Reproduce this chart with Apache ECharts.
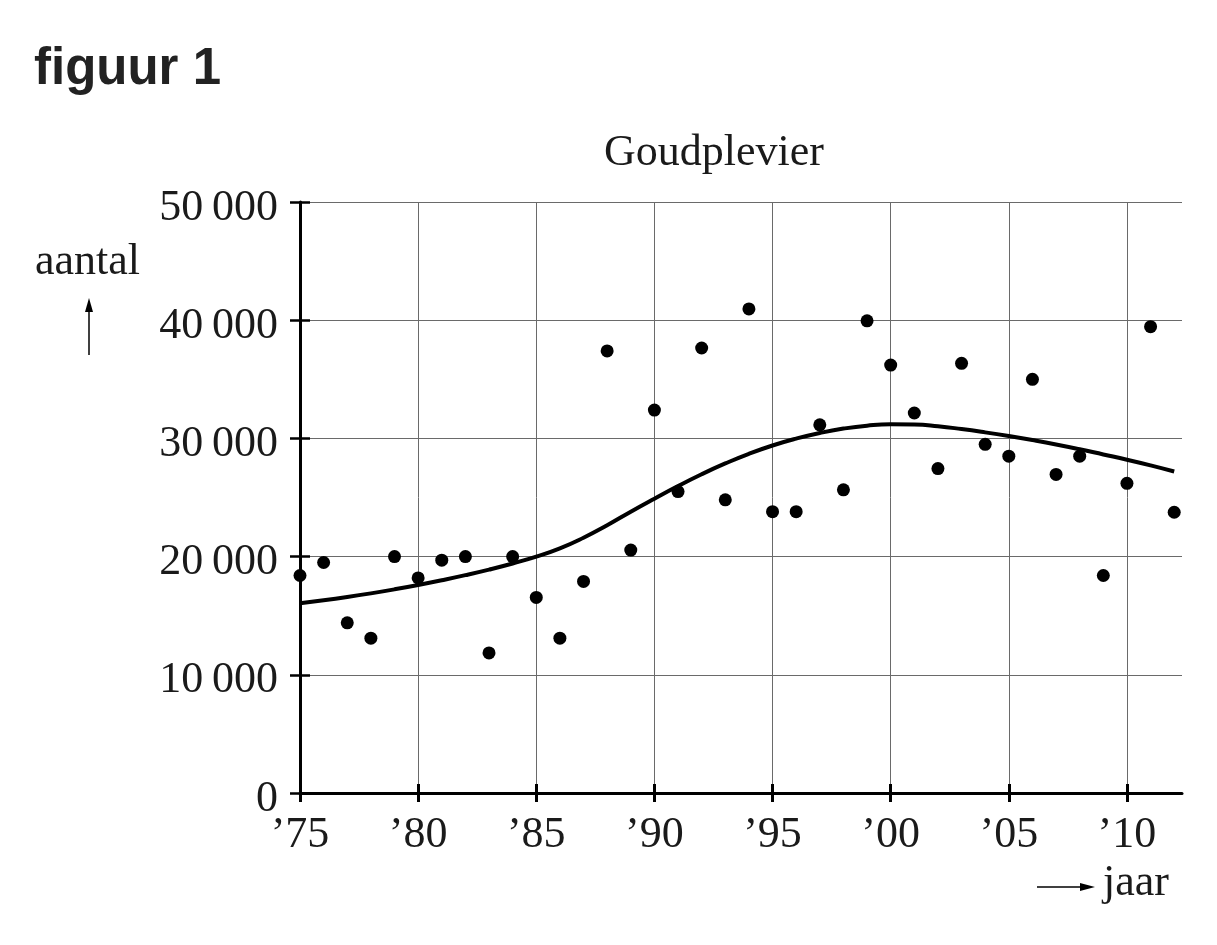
<!DOCTYPE html>
<html>
<head>
<meta charset="utf-8">
<script src="https://cdn.jsdelivr.net/npm/echarts@6/dist/echarts.min.js"></script>
<style>
html,body{margin:0;padding:0;background:#fff;}
#chart{width:1217px;height:945px;}
</style>
</head>
<body>
<div id="chart"></div>
<script>
// Observed counts (aantal) per year
var years = [1975,1976,1977,1978,1979,1980,1981,1982,1983,1984,1985,1986,1987,1988,1989,1990,1991,1992,1993,1994,1995,1996,1997,1998,1999,2000,2001,2002,2003,2004,2005,2006,2007,2008,2009,2010,2011,2012];
var counts = [18400,19500,14400,13100,20000,18200,19700,20000,11850,20000,16550,13100,17900,37400,20550,32400,25500,37650,24800,40950,23800,23800,31150,25650,39950,36200,32150,27450,36350,29500,28500,35000,26950,28500,18400,26200,39450,23750];
// Trend curve (one value per year)
var trendValues = [16050,16300,16580,16890,17230,17600,18000,18430,18900,19420,20000,20700,21600,22650,23800,24900,25970,26970,27880,28700,29400,29980,30460,30830,31080,31200,31180,31030,30790,30510,30200,29860,29490,29080,28640,28200,27720,27200];
// Tick labels
var xTicks = [1975,1980,1985,1990,1995,2000,2005,2010];
var xTickLabels = ['\u201975','\u201980','\u201985','\u201990','\u201995','\u201900','\u201905','\u201910'];
var yTickLabels = ['0','10\u2009000','20\u2009000','30\u2009000','40\u2009000','50\u2009000'];

var serif = '"Liberation Serif","DejaVu Serif",serif';
var chart = echarts.init(document.getElementById('chart'), null, {renderer:'canvas'});

var points = years.map(function(y,i){return [y, counts[i]];});
var trend = years.map(function(y,i){return [y, trendValues[i]];});

var gridColor = '#6a6a6a';

chart.setOption({
  backgroundColor: '#fff',
  animation: false,
  grid: {left: 300, right: 35, top: 202, bottom: 152, containLabel: false},
  xAxis: [{
    type: 'value', min: 1975, max: 2012.33, position: 'bottom',
    axisLine: {show: true, onZero: false, lineStyle: {color: '#000', width: 3}},
    axisTick: {show: true, inside: false, length: 9, customValues: xTicks, lineStyle: {color: '#000', width: 3}},
    axisLabel: {show: true, customValues: xTicks, margin: 20, color: '#1a1a1a', fontFamily: serif, fontSize: 44,
      formatter: function(v){ var i = xTicks.indexOf(Math.round(v)); return i >= 0 ? xTickLabels[i] : ''; }},
    splitLine: {show: true, lineStyle: {color: gridColor, width: 1}}
  },{
    type: 'value', min: 1975, max: 2012.33, position: 'bottom',
    axisLine: {show: false},
    axisTick: {show: true, inside: true, length: 9, customValues: xTicks, lineStyle: {color: '#000', width: 3}},
    axisLabel: {show: false},
    splitLine: {show: false}
  }],
  yAxis: [{
    type: 'value', min: 0, max: 50000, interval: 10000, position: 'left',
    axisLine: {show: true, onZero: false, lineStyle: {color: '#000', width: 3}},
    axisTick: {show: true, inside: false, length: 10, lineStyle: {color: '#000', width: 2.5}},
    axisLabel: {show: true, margin: 22, color: '#1a1a1a', fontFamily: serif, fontSize: 44,
      formatter: function(v){ return '{a|' + yTickLabels[Math.round(v/10000)] + '}'; },
      rich: {a: {fontFamily: serif, fontSize: 44, color: '#1a1a1a', padding: [12, 0, 0, 0]}}},
    splitLine: {show: true, lineStyle: {color: gridColor, width: 1}}
  },{
    type: 'value', min: 0, max: 50000, interval: 10000, position: 'left',
    axisLine: {show: false},
    axisTick: {show: true, inside: true, length: 10, lineStyle: {color: '#000', width: 2.5}},
    axisLabel: {show: false},
    splitLine: {show: false}
  }],
  series: [{
    type: 'line', data: trend, smooth: 0.5, showSymbol: false, symbol: 'none',
    lineStyle: {color: '#000', width: 4}, z: 3, silent: true
  },{
    type: 'scatter', data: points, symbol: 'circle', symbolSize: 13,
    itemStyle: {color: '#000', opacity: 1}, z: 4, silent: true
  }],
  graphic: [
    {type: 'text', left: 34, top: 44, style: {text: 'figuur 1', font: 'bold 51px "Liberation Sans", Arial, sans-serif', fill: '#222'}},
    {type: 'text', x: 714, y: 175, style: {text: 'Goudplevier', font: '44px ' + serif, fill: '#1a1a1a', textAlign: 'center', textVerticalAlign: 'bottom'}},
    {type: 'text', x: 35, y: 284, style: {text: 'aantal', font: '44px ' + serif, fill: '#1a1a1a', textAlign: 'left', textVerticalAlign: 'bottom'}},
    {type: 'line', shape: {x1: 89, y1: 355, x2: 89, y2: 306}, style: {stroke: '#000', lineWidth: 1.5}},
    {type: 'polygon', shape: {points: [[89, 298], [85, 312], [93, 312]]}, style: {fill: '#000'}},
    {type: 'line', shape: {x1: 1037, y1: 887, x2: 1082, y2: 887}, style: {stroke: '#000', lineWidth: 1.5}},
    {type: 'polygon', shape: {points: [[1095, 887], [1080, 883], [1080, 891]]}, style: {fill: '#000'}},
    {type: 'text', x: 1103, y: 905, style: {text: 'jaar', font: '44px ' + serif, fill: '#1a1a1a', textAlign: 'left', textVerticalAlign: 'bottom'}}
  ]
});
</script>
</body>
</html>
